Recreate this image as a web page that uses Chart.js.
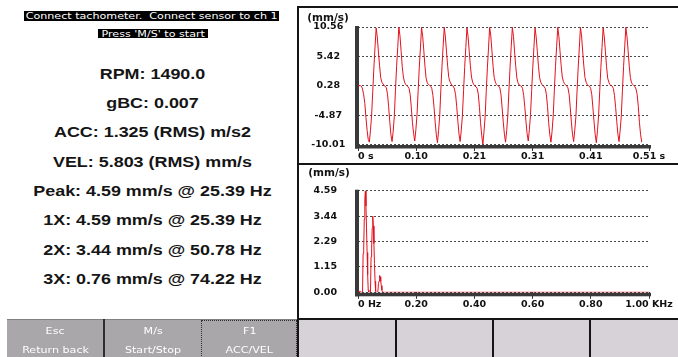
<!DOCTYPE html>
<html>
<head>
<meta charset="utf-8">
<title>Vibration meter</title>
<script src="https://cdn.jsdelivr.net/npm/chart.js@4.4.1/dist/chart.umd.min.js"></script>
<style>
  html, body { margin: 0; padding: 0; background: #fff; }
  #screen { position: relative; width: 678px; height: 357px; overflow: hidden; background: #fff; font-family: "DejaVu Sans", sans-serif; }
  .abs { position: absolute; }
  .hl { position: absolute; background: #000; color: #fff; text-align: center; white-space: pre; font-size: 9.5px; }
  .hl span { display: inline-block; transform: scaleX(1.17); }
  #readings { position: absolute; left: 0; top: 59.6px; width: 305px; font-family: "Liberation Sans", Arial, sans-serif; font-weight: bold; font-size: 14.5px; line-height: 29.36px; color: #151515; }
  #readings div { text-align: center; white-space: pre; transform: scaleX(1.235); transform-origin: 152.5px 50%; }
  canvas { position: absolute; }
  .unit { position: absolute; width: 60px; text-align: center; font-weight: bold; font-size: 10.5px; line-height: 12px; color: #111; }
  .line { position: absolute; background: #151515; }
  .btnText { position: absolute; color: #fff; text-align: center; font-size: 9.5px; line-height: 11px; white-space: pre; }
  .btnText span { display: inline-block; transform: scaleX(1.17); }
</style>
</head>
<body>
<div id="screen">
  <div class="hl" style="left:24px;top:11px;width:255px;height:9.5px;line-height:9.5px"><span>Connect tachometer.  Connect sensor to ch 1</span></div>
  <div class="hl" style="left:98px;top:29px;width:110px;height:9px;line-height:9.5px"><span>Press 'M/S' to start</span></div>
  <div id="readings"></div>

  <canvas id="waveChart" width="379" height="155" style="left:299px;top:8px"></canvas>
  <canvas id="specChart" width="379" height="155" style="left:299px;top:164px"></canvas>
  <div class="unit" style="left:298px;top:11.2px">(mm/s)</div>
  <div class="unit" style="left:299px;top:166.2px">(mm/s)</div>

  <!-- panel frame -->
  <div class="line" style="left:297px;top:6px;width:381px;height:2px"></div>
  <div class="line" style="left:297px;top:6px;width:2px;height:351px"></div>
  <div class="line" style="left:297px;top:163px;width:381px;height:2px"></div>

  <!-- soft key bar -->
  <div class="abs" style="left:7px;top:319px;width:290px;height:38px;background:#a9a7aa;border-top:1px solid #828083;box-sizing:border-box"></div>
  <div class="abs" style="left:103px;top:319px;width:2px;height:38px;background:#2e2e2e"></div>
  <div class="abs" style="left:201px;top:320px;width:96px;height:40px;border:1px dotted #2e2e2e;box-sizing:border-box"></div>
  <div class="abs" style="left:299px;top:320px;width:379px;height:37px;background:#d6d2d7"></div>
  <div class="line" style="left:297px;top:318px;width:381px;height:2px"></div>
  <div class="line" style="left:297px;top:318px;width:2px;height:39px"></div>
  <div class="line" style="left:395px;top:318px;width:2px;height:39px"></div>
  <div class="line" style="left:492px;top:318px;width:2px;height:39px"></div>
  <div class="line" style="left:589px;top:318px;width:2px;height:39px"></div>
  <div id="keys"></div>
</div>

<script>
// ---- measurement readouts ----
const rpm = '1490.0';
const gbc = '0.007';
const accRms = '1.325';          // m/s2
const velRms = '5.803';          // mm/s
const orderNames = ['1X', '2X', '3X'];
const orderAmp = [4.59, 3.44, 0.76];        // mm/s
const orderHz = [25.39, 50.78, 74.22];

// ---- velocity waveform (mm/s), one sample every 2 ms ----
const waveDt = 0.002;
const waveVel = [
  0.3, 0.3, 0.3, 0.2, -0.3, -1.3, -2.8, -5.3, -7.5, -9.1, -9.6,
  -7.5, -4.9, -0.7, 3.4, 7.1, 10.4, 8.8, 6.2, 3.8, 1.7, 0.9, 0.6, 0.3, 0.2, -0.1, -1.2, -3.4, -6.0, -8.3, -9.5,
  -7.7, -5.1, -0.5, 3.6, 7.0, 10.56, 9.0, 6.3, 3.6, 1.8, 0.9, 0.5, 0.3, 0.1, -0.2, -1.3, -3.6, -6.2, -8.1, -9.4,
  -7.4, -4.8, -0.6, 3.5, 6.9, 10.5, 8.9, 6.4, 3.7, 1.6, 0.8, 0.5, 0.4, 0.2, -0.2, -1.4, -3.5, -6.1, -8.3, -9.7,
  -7.6, -5.0, -0.4, 3.7, 7.2, 10.5, 8.8, 6.2, 3.7, 1.7, 1.0, 0.6, 0.3, 0.2, -0.3, -1.3, -3.4, -6.0, -8.2, -9.5,
  -7.5, -4.9, -0.6, 3.5, 7.0, 10.4, 8.9, 6.3, 3.8, 1.8, 0.9, 0.5, 0.2, 0.1, -0.2, -1.2, -3.5, -6.2, -8.4, -10.01,
  -7.8, -5.2, -0.7, 3.4, 6.9, 10.5, 9.0, 6.4, 3.7, 1.7, 0.9, 0.5, 0.3, 0.2, -0.1, -1.3, -3.6, -6.1, -8.2, -9.6,
  -7.6, -4.9, -0.5, 3.6, 7.1, 10.5, 8.9, 6.2, 3.6, 1.6, 0.8, 0.4, 0.3, 0.2, -0.2, -1.4, -3.5, -6.0, -8.1, -9.4,
  -7.4, -4.8, -0.6, 3.5, 7.0, 10.4, 8.8, 6.3, 3.7, 1.7, 0.9, 0.5, 0.3, 0.1, -0.2, -1.3, -3.4, -6.2, -8.3, -9.6,
  -7.7, -5.0, -0.5, 3.6, 7.1, 10.5, 8.9, 6.3, 3.8, 1.8, 1.0, 0.6, 0.4, 0.2, -0.1, -1.2, -3.5, -6.1, -8.2, -9.5,
  -7.5, -5.1, -0.7, 3.4, 6.9, 10.5, 9.0, 6.2, 3.7, 1.7, 0.9, 0.5, 0.3, 0.2, -0.2, -1.3, -3.6, -6.1, -8.3, -9.7,
  -7.6, -4.9, -0.6, 3.5, 7.0, 10.4, 8.8, 6.3, 3.6, 1.6, 0.9, 0.5, 0.3, 0.2, -0.2, -1.4, -3.5, -6.0, -8.2, -9.5,
  -7.5, -5.0, -0.5, 3.6, 7.1, 10.5, 8.9, 6.4, 3.7, 1.7, 0.8, 0.5, 0.3, 0.1, -0.3, -1.3, -3.4, -6.2, -8.3, -9.6
];
const waveSpan = 0.5128;                      // s shown on the time axis
const waveXLabels = ['0 s', '0.10', '0.21', '0.31', '0.41', '0.51 s'];
const waveYMin = -10.01, waveYMax = 10.56;
const waveYLabels = ['-10.01', '-4.87', '0.28', '5.42', '10.56'];

// ---- velocity spectrum (mm/s), 1.953125 Hz lines; lines above the list are 0.00 ----
const specBinHz = 1000 / 512;
const specLines = 512;
const specAmp = [
  0, 0, 0.03, 0.06, 0.02, 0, 0, 0, 0.02, 1.75,
  1.9, 3.3, 4.2, 4.59, 3.9, 2.9, 1.8, 0.8, 0.1, 0,
  0, 0, 0.02, 1.6, 2.0, 2.9, 3.44, 3.0, 2.2, 1.3,
  0.5, 0.05, 0, 0, 0, 0.05, 0.4, 0.5, 0.76, 0.7,
  0.5, 0.3, 0.1, 0.02, 0
];
const specSpanHz = 1000;
const specXLabels = ['0 Hz', '0.20', '0.40', '0.60', '0.80', '1.00 KHz'];
const specYMin = 0, specYMax = 4.59;
const specYLabels = ['0.00', '1.15', '2.29', '3.44', '4.59'];

// ---- soft keys ----
const keyNames = ['Esc', 'M/s', 'F1'];
const keyActions = ['Return back', 'Start/Stop', 'ACC/VEL'];

// readout lines
(function buildReadouts() {
  const peakIdx = orderAmp.indexOf(Math.max(...orderAmp));
  const lines = [
    'RPM: ' + rpm,
    'gBC: ' + gbc,
    'ACC: ' + accRms + ' (RMS) m/s2',
    'VEL: ' + velRms + ' (RMS) mm/s',
    'Peak: ' + orderAmp[peakIdx].toFixed(2) + ' mm/s @ ' + orderHz[peakIdx].toFixed(2) + ' Hz'
  ];
  orderNames.forEach((n, i) => lines.push(n + ': ' + orderAmp[i].toFixed(2) + ' mm/s @ ' + orderHz[i].toFixed(2) + ' Hz'));
  const box = document.getElementById('readings');
  lines.forEach(t => { const d = document.createElement('div'); d.textContent = t; box.appendChild(d); });

  const keys = document.getElementById('keys');
  const centers = [55.5, 153, 249.5];
  keyNames.forEach((k, i) => {
    [[k, 325], [keyActions[i], 343.7]].forEach(([txt, top]) => {
      const d = document.createElement('div');
      d.className = 'btnText';
      d.style.left = (centers[i] - 50) + 'px';
      d.style.width = '100px';
      d.style.top = top + 'px';
      const s = document.createElement('span');
      s.textContent = txt;
      d.appendChild(s);
      keys.appendChild(d);
    });
  });
})();

Chart.defaults.font.family = '"DejaVu Sans", sans-serif';

// thick axis bars and x-axis captions drawn the way the meter screen shows them
const meterAxes = {
  id: 'meterAxes',
  beforeDatasetsDraw(chart, args, opts) {
    const { ctx, chartArea: a } = chart;
    ctx.save();
    ctx.fillStyle = opts.barColor;
    ctx.fillRect(a.left - 3, a.top - 1, 4, a.bottom - a.top + 5);
    ctx.fillRect(a.left - 3, a.bottom + 0.5, a.right - a.left + 5, 3.5);
    ctx.restore();
  },
  afterDraw(chart, args, opts) {
    const { ctx, chartArea: a } = chart;
    const xs = chart.scales.x;
    ctx.save();
    ctx.font = 'bold 9.5px "DejaVu Sans", sans-serif';
    ctx.fillStyle = '#111';
    ctx.textBaseline = 'middle';
    xs.ticks.forEach((t, i) => {
      ctx.textAlign = i === 0 ? 'left' : 'center';
      ctx.fillText(opts.labels[i], xs.getPixelForValue(t.value), a.bottom + 12.2);
    });
    ctx.restore();
  }
};

function meterChart(id, points, cfg) {
  const xStep = (cfg.xMax - cfg.xMin) / (cfg.xLabels.length - 1);
  const yStep = (cfg.yMax - cfg.yMin) / (cfg.yLabels.length - 1);
  return new Chart(document.getElementById(id), {
    type: 'line',
    data: { datasets: [{ data: points, borderColor: 'rgb(226,18,30)', borderWidth: 1, pointRadius: 0, tension: 0, fill: false }] },
    plugins: [meterAxes],
    options: {
      responsive: false,
      animation: false,
      events: [],
      parsing: false,
      layout: { padding: { top: 19, right: 29, left: 0, bottom: 0 } },
      plugins: {
        legend: { display: false },
        tooltip: { enabled: false },
        meterAxes: { barColor: '#393939', labels: cfg.xLabels }
      },
      scales: {
        x: {
          type: 'linear', min: cfg.xMin, max: cfg.xMax,
          afterBuildTicks: s => { s.ticks = cfg.xLabels.map((_, i) => ({ value: cfg.xMin + i * xStep })); },
          afterFit: s => { s.height = 18.5; },
          ticks: { display: false },
          grid: { display: true, drawOnChartArea: false, drawTicks: true, tickLength: 6.5, color: '#333', lineWidth: 1 },
          border: { display: false }
        },
        y: {
          type: 'linear', min: cfg.yMin, max: cfg.yMax,
          afterBuildTicks: s => { s.ticks = cfg.yLabels.map((_, i) => ({ value: cfg.yMin + i * yStep })); },
          afterFit: s => { s.width = 59; },
          ticks: {
            crossAlign: 'center', padding: cfg.yPad, color: '#111',
            font: { weight: 'bold', size: 9.5 },
            callback: (v, i) => cfg.yLabels[i]
          },
          grid: { drawTicks: false, color: '#4a4a4a', lineWidth: 1 },
          border: { display: false, dash: [2, 2] }
        }
      }
    }
  });
}

const wavePoints = waveVel.map((v, i) => ({ x: i * waveDt, y: v }));
meterChart('waveChart', wavePoints, {
  xMin: 0, xMax: waveSpan, xLabels: waveXLabels,
  yMin: waveYMin, yMax: waveYMax, yLabels: waveYLabels, yPad: 12.7
});

const specPoints = [];
for (let i = 0; i <= specLines; i++) specPoints.push({ x: i * specBinHz, y: specAmp[i] ?? 0 });
meterChart('specChart', specPoints, {
  xMin: 0, xMax: specSpanHz, xLabels: specXLabels,
  yMin: specYMin, yMax: specYMax, yLabels: specYLabels, yPad: 21
});
</script>
</body>
</html>
